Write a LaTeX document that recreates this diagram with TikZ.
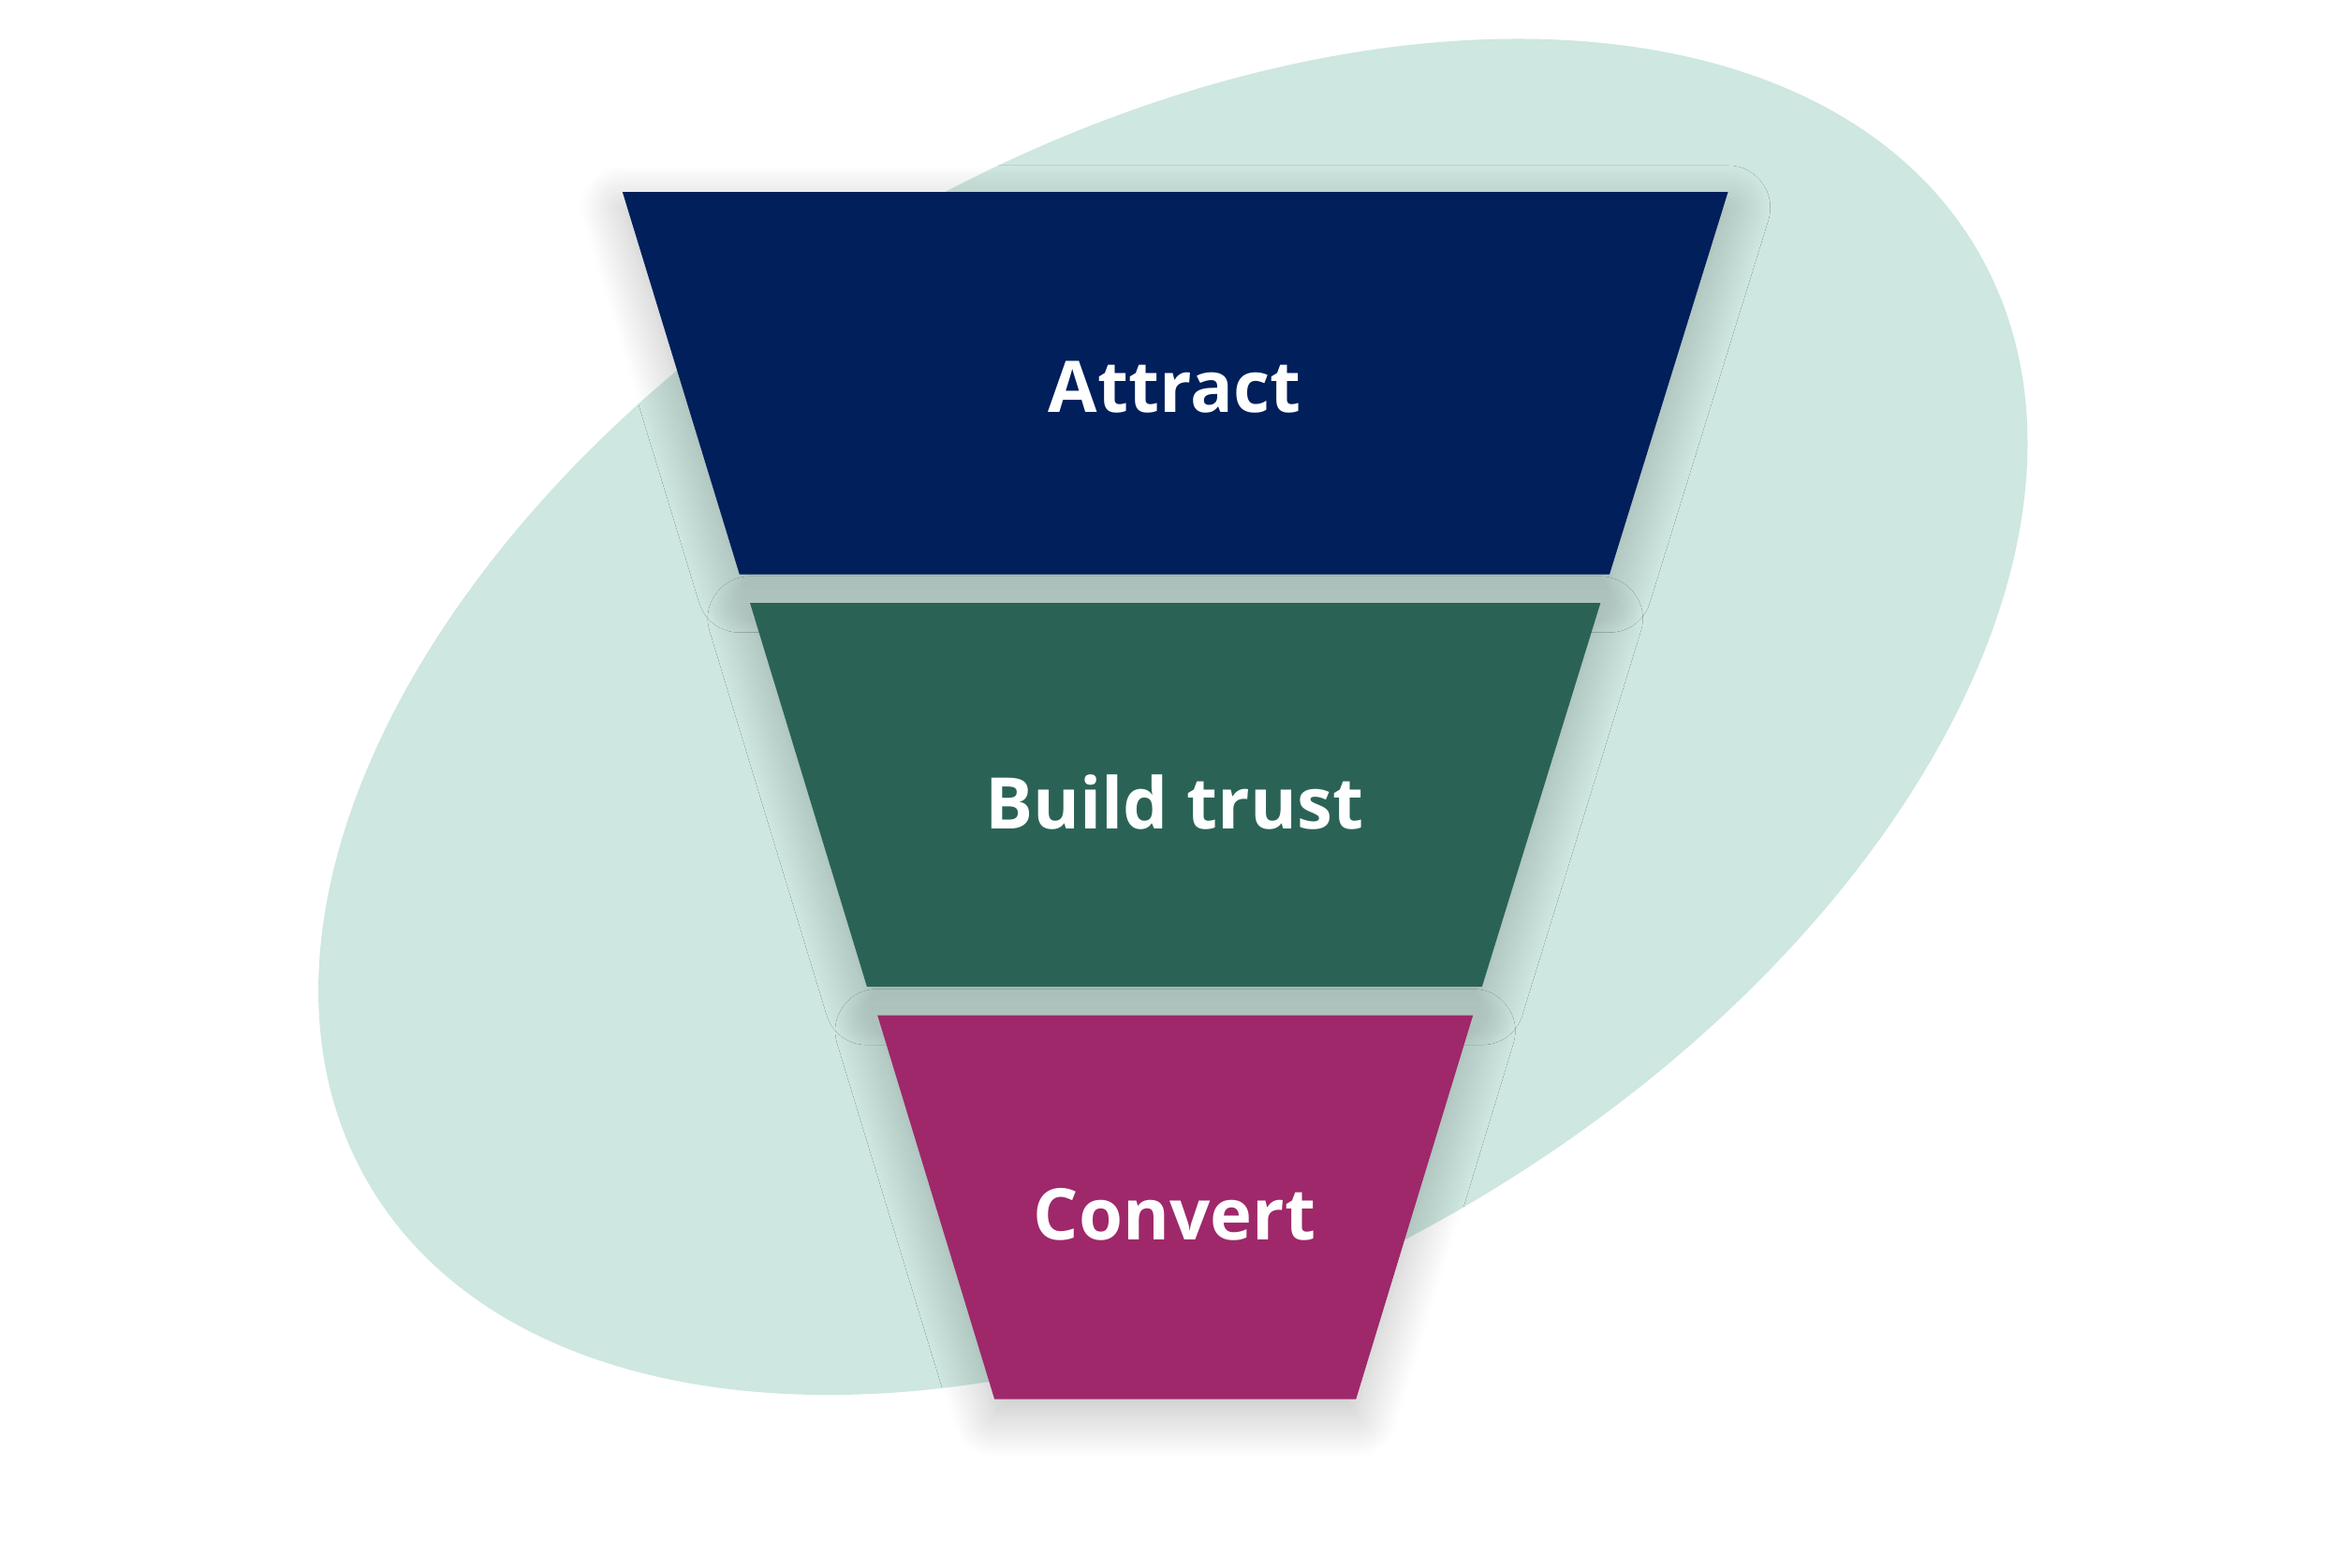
\documentclass[tikz,border=0pt]{standalone}
\usepackage{fontspec}
\setmainfont{Open Sans}
\usetikzlibrary{shadows.blur}
\definecolor{blobgreen}{HTML}{CEE7E0}
\definecolor{navy}{HTML}{001F5B}
\definecolor{pine}{HTML}{2A6356}
\definecolor{plum}{HTML}{9E286A}
\begin{document}
\begin{tikzpicture}[
    x=0.01cm, y=-0.01cm,
    stage/.style={draw=none, blur shadow={shadow xshift=0pt, shadow yshift=-3pt, shadow blur radius=8pt, shadow blur steps=20, shadow opacity=25}},
    label/.style={text=white, font=\fontsize{13.5}{16}\selectfont\bfseries},
]
\useasboundingbox (0,0) rectangle (1568,1045);

% Background blob
\fill[blobgreen, rotate around={30:(782,478)}] (782,478) ellipse [x radius=620, y radius=380];

% Funnel stages
\fill[navy, stage] (415,128) -- (1152,128) -- (1073,383) -- (493,383) -- cycle;
\fill[pine, stage] (500,402) -- (1067,402) -- (988,658) -- (578,658) -- cycle;
\fill[plum, stage] (585,677) -- (982,677) -- (904,933) -- (663,933) -- cycle;

\node[label] (attract) at (783,258) {Attract};
\node[label] (trust) at (783,535) {Build trust};
\node[label] (convert) at (783,810) {Convert};

\end{tikzpicture}
\end{document}
